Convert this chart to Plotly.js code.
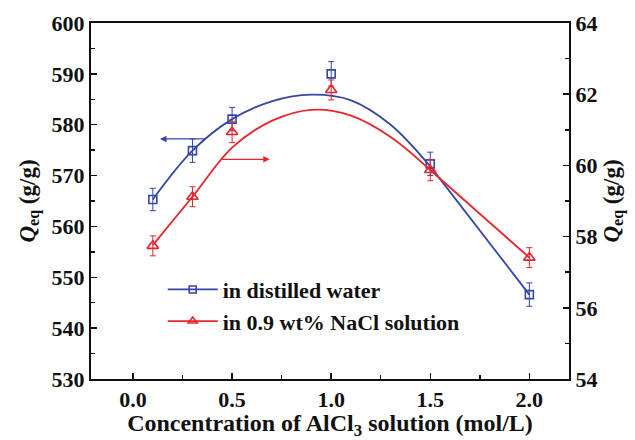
<!DOCTYPE html>
<html>
<head>
<meta charset="utf-8">
<script src="https://cdn.plot.ly/plotly-3.0.1.min.js"></script>
<style>html,body{margin:0;padding:0;background:#fff}#chart{width:635px;height:440px}</style>
</head>
<body>
<div id="chart"></div>
<script>
// Measured data points
const conc = [0.1, 0.3, 0.5, 1.0, 1.5, 2.0];
const qWater = [565.3, 574.9, 581.1, 590.0, 572.3, 546.6];
const errWater = [2.2, 2.3, 2.3, 2.4, 2.3, 2.3];
const qSaline = [57.74, 59.12, 60.94, 62.12, 59.87, 57.41];
const errSaline = [0.28, 0.28, 0.3, 0.28, 0.3, 0.28];
// Fitted curves (0.1–1.5, smooth)
const fitX = [0.1, 0.3, 0.5, 0.7, 0.9, 1.1, 1.3, 1.5];
const fitWater = [565.3, 574.9, 581.1, 584.6, 585.9, 584.8, 580.0, 571.8];
const fitSaline = [57.76, 59.12, 60.5, 61.25, 61.56, 61.4, 60.8, 59.87];
// Straight segments 1.5–2.0
const segX = [1.5, 2.0];
const segWater = [571.8, 546.6];
const segSaline = [59.87, 57.41];
const legendNames = ["in distilled water", "in 0.9 wt% NaCl solution"];
const xTitle = "Concentration of AlCl<sub>3</sub> solution (mol/L)";
const yTitle = "<i>Q</i><sub>eq</sub> (g/g)";

const BLUE = "#3547a6", RED = "#e8252b";
const FONT = "Liberation Serif, Times New Roman, serif";

const traces = [
  {x: fitX, y: fitWater, mode: "lines", line: {color: BLUE, width: 1.8, shape: "spline", smoothing: 1}, showlegend: false, yaxis: "y"},
  {x: segX, y: segWater, mode: "lines", line: {color: BLUE, width: 1.8}, showlegend: false, yaxis: "y"},
  {x: fitX, y: fitSaline, mode: "lines", line: {color: RED, width: 1.8, shape: "spline", smoothing: 1}, showlegend: false, yaxis: "y2"},
  {x: segX, y: segSaline, mode: "lines", line: {color: RED, width: 1.8}, showlegend: false, yaxis: "y2"},
  {x: conc, y: qWater, mode: "markers", yaxis: "y", showlegend: false,
   marker: {symbol: "square-open", size: 8, color: BLUE, line: {width: 1.6, color: BLUE}},
   error_y: {type: "data", array: errWater, visible: true, color: BLUE, thickness: 1, width: 3}},
  {x: conc, y: qSaline, mode: "markers", yaxis: "y2", showlegend: false,
   marker: {symbol: "triangle-up-open", size: 10, color: RED, line: {width: 1.6, color: RED}},
   error_y: {type: "data", array: errSaline, visible: true, color: RED, thickness: 1, width: 3}},
  {x: [null], y: [null], mode: "lines+markers", name: "<b>" + legendNames[0] + "</b>", yaxis: "y",
   line: {color: BLUE, width: 1.8}, marker: {symbol: "square-open", size: 7, color: BLUE, line: {width: 1.6, color: BLUE}}},
  {x: [null], y: [null], mode: "lines+markers", name: "<b>" + legendNames[1] + "</b>", yaxis: "y2",
   line: {color: RED, width: 1.8}, marker: {symbol: "triangle-up-open", size: 8, color: RED, line: {width: 1.6, color: RED}}}
];

const tickfont = {family: FONT, size: 22, color: "#111", weight: "bold"};
const titlefont = {family: FONT, size: 23, color: "#111", weight: "bold"};
const xtitlefont = {family: FONT, size: 24, color: "#111", weight: "bold"};

const layout = {
  width: 635, height: 440,
  margin: {l: 91, r: 66, t: 23, b: 61},
  paper_bgcolor: "#fff", plot_bgcolor: "#fff",
  xaxis: {
    range: [-0.212, 2.2], tickvals: [0, 0.5, 1, 1.5, 2], ticktext: ["<b>0.0</b>", "<b>0.5</b>", "<b>1.0</b>", "<b>1.5</b>", "<b>2.0</b>"],
    ticks: "inside", ticklen: 6, tickwidth: 1.5, tickcolor: "#111",
    minor: {dtick: 0.25, ticks: "inside", ticklen: 4, tickwidth: 1.5, tickcolor: "#111"},
    showline: true, linecolor: "#111", linewidth: 2, mirror: true,
    showgrid: false, zeroline: false, tickfont: tickfont,
    title: {text: "<b>" + xTitle + "</b>", font: xtitlefont, standoff: 6}
  },
  yaxis: {
    range: [530, 600], dtick: 10, ticks: "inside", ticklen: 6, tickwidth: 1.5, tickcolor: "#111",
    minor: {dtick: 5, ticks: "inside", ticklen: 4, tickwidth: 1.5, tickcolor: "#111"},
    showline: true, linecolor: "#111", linewidth: 2,
    showgrid: false, zeroline: false, tickfont: tickfont, tickprefix: "<b>", ticksuffix: "</b>",
    title: {text: "<b>" + yTitle + "</b>", font: titlefont, standoff: 10}
  },
  yaxis2: {
    overlaying: "y", side: "right",
    range: [54, 64], dtick: 2, ticks: "inside", ticklen: 6, tickwidth: 1.5, tickcolor: "#111",
    minor: {dtick: 1, ticks: "inside", ticklen: 4, tickwidth: 1.5, tickcolor: "#111"},
    showline: true, linecolor: "#111", linewidth: 2,
    showgrid: false, zeroline: false, tickfont: tickfont, tickprefix: "<b>", ticksuffix: "</b>",
    title: {text: "<b>" + yTitle + "</b>", font: titlefont, standoff: 6}
  },
  legend: {
    x: 0.15, y: 0.31, xanchor: "left", yanchor: "top",
    bgcolor: "rgba(0,0,0,0)", itemwidth: 50, tracegroupgap: 0,
    font: {family: FONT, size: 22, color: "#111", weight: "bold"}
  },
  annotations: [
    {xref: "x", yref: "y", axref: "x", ayref: "y", x: 0.136, y: 577.2, ax: 0.374, ay: 577.2,
     showarrow: true, arrowhead: 2, arrowsize: 1, arrowwidth: 1.3, arrowcolor: BLUE, text: ""},
    {xref: "x", yref: "y", axref: "x", ayref: "y", x: 0.69, y: 573.2, ax: 0.44, ay: 573.2,
     showarrow: true, arrowhead: 2, arrowsize: 1, arrowwidth: 1.3, arrowcolor: RED, text: ""}
  ]
};

Plotly.newPlot("chart", traces, layout, {displayModeBar: false, staticPlot: true});
</script>
</body>
</html>
